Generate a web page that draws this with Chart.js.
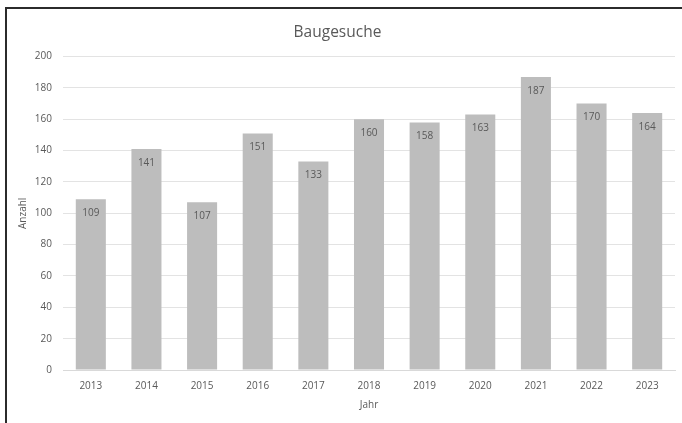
<!DOCTYPE html>
<html>
<head>
<meta charset="utf-8">
<script src="https://cdn.jsdelivr.net/npm/chart.js@4/dist/chart.umd.min.js"></script>
<style>
  html, body { margin: 0; padding: 0; background: #fff; overflow: hidden; }
  #wrap { position: relative; width: 682px; height: 423px; }
  #frame {
    position: absolute; left: 5px; top: 7px; width: 720px; height: 460px;
    border-left: 2px solid #2b2b2b; border-top: 2px solid #2b2b2b;
    pointer-events: none;
  }
</style>
</head>
<body>
<div id="wrap">
  <canvas id="baugesucheChart" width="682" height="423"></canvas>
  <div id="frame"></div>
</div>
<script>
var years = ['2013', '2014', '2015', '2016', '2017', '2018', '2019', '2020', '2021', '2022', '2023'];
var anzahl = [109, 141, 107, 151, 133, 160, 158, 163, 187, 170, 164];
var yTicks = [0, 20, 40, 60, 80, 100, 120, 140, 160, 180, 200];

var fontFamily = '"Open Sans", "Liberation Sans", sans-serif';
var textGray = '#595959';

// value labels just below the top of each bar
var barLabels = {
    id: 'barLabels',
    afterDatasetsDraw: function (chart) {
        var ctx = chart.ctx;
        var meta = chart.getDatasetMeta(0);
        ctx.save();
        ctx.font = '10px ' + fontFamily;
        ctx.fillStyle = textGray;
        ctx.textAlign = 'center';
        ctx.textBaseline = 'middle';
        meta.data.forEach(function (bar, i) {
            ctx.fillText(String(anzahl[i]), bar.x, bar.y + 14);
        });
        ctx.restore();
    }
};

var ctx = document.getElementById('baugesucheChart').getContext('2d');
var chart = new Chart(ctx, {
    type: 'bar',
    data: {
        labels: years,
        datasets: [{
            label: 'Anzahl',
            data: anzahl,
            backgroundColor: '#bdbdbd',
            borderWidth: 0,
            categoryPercentage: 1,
            barPercentage: 0.54
        }]
    },
    options: {
        responsive: false,
        animation: false,
        layout: { padding: { left: 0, right: 7, top: 0, bottom: 0 } },
        plugins: {
            legend: { display: false },
            tooltip: { enabled: false },
            title: {
                display: true,
                text: 'Baugesuche',
                color: textGray,
                font: { family: fontFamily, size: 15.5, weight: 'normal' },
                padding: { top: 23, bottom: 15 }
            }
        },
        scales: {
            x: {
                grid: { display: false, drawTicks: false },
                border: { display: true, color: '#d9d9d9', width: 1 },
                ticks: {
                    color: textGray,
                    font: { family: fontFamily, size: 10 },
                    padding: 10,
                    maxRotation: 0
                },
                title: {
                    display: true,
                    text: 'Jahr',
                    color: textGray,
                    font: { family: fontFamily, size: 10 },
                    padding: { top: 0, bottom: 12 }
                },
                afterFit: function (scale) { scale.height = 53; }
            },
            y: {
                min: 0,
                max: 200,
                afterBuildTicks: function (scale) {
                    scale.ticks = yTicks.map(function (v) { return { value: v }; });
                },
                grid: { color: '#e3e3e3', drawTicks: false },
                border: { display: false },
                ticks: {
                    color: textGray,
                    font: { family: fontFamily, size: 10 },
                    padding: 11
                },
                title: {
                    display: true,
                    text: 'Anzahl',
                    color: textGray,
                    font: { family: fontFamily, size: 10 },
                    padding: { top: 17, bottom: 0 }
                },
                afterFit: function (scale) { scale.width = 63; }
            }
        }
    },
    plugins: [barLabels]
});
</script>
</body>
</html>
